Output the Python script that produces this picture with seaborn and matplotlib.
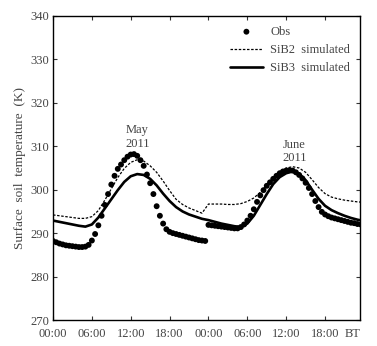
import numpy as np
import pandas as pd
import matplotlib
matplotlib.use("Agg")
import matplotlib.pyplot as plt
import seaborn as sns

# Observed surface soil temperature, half-hourly (hours since start)
obs_hours = np.arange(0, 48, 0.5)
obs_temp = [
    288.2, 287.9, 287.6, 287.4, 287.2, 287.1, 287.0, 286.9, 286.8, 286.8,
    286.9, 287.3, 288.3, 289.8, 291.8, 294.0, 296.5, 299.0, 301.2, 303.2,
    304.8, 305.8, 306.8, 307.6, 308.1, 308.2, 307.8, 306.8, 305.5, 303.5,
    301.5, 299.0, 296.2, 294.0, 292.2, 290.9, 290.3, 290.0, 289.8, 289.6,
    289.4, 289.2, 289.0, 288.8, 288.6, 288.4, 288.3, 288.2,
    291.9, 291.8, 291.7, 291.6, 291.5, 291.4, 291.3, 291.2, 291.1, 291.1,
    291.4, 292.0, 292.9, 294.0, 295.5, 297.2, 298.7, 299.9, 300.9, 301.7,
    302.5, 303.2, 303.8, 304.2, 304.4, 304.5, 304.4, 304.0, 303.4, 302.6,
    301.6, 300.4, 299.0, 297.4, 296.0, 294.9, 294.3, 293.9, 293.6, 293.4,
    293.2, 293.0, 292.8, 292.6, 292.4, 292.3, 292.1, 292.0,
]

# Simulations, hourly
sim_hours = np.arange(0, 49, 1)
sib2 = [
    294.2, 294.0, 293.8, 293.6, 293.4, 293.4, 293.8, 295.2, 297.6, 300.2,
    302.8, 304.9, 306.3, 306.9, 306.6, 305.5, 304.0, 302.0, 299.8, 297.8,
    296.6, 295.8, 295.2, 294.6, 296.7, 296.7, 296.7, 296.6, 296.6, 296.8,
    297.3, 298.1, 299.4, 301.0, 302.8, 304.2, 305.0, 305.3, 305.0, 304.0,
    302.3, 300.5, 299.1, 298.3, 297.9, 297.6, 297.4, 297.2, 297.1,
]
sib3 = [
    292.9, 292.6, 292.3, 292.0, 291.7, 291.5, 292.0, 293.6, 295.7, 297.8,
    299.9, 301.8, 303.1, 303.6, 303.4, 302.5, 301.0, 299.1, 297.4, 296.0,
    295.0, 294.3, 293.8, 293.3, 293.0, 292.6, 292.2, 291.9, 291.6, 291.4,
    292.2, 294.0, 296.5, 299.0, 301.3, 302.9, 303.8, 304.2, 303.7, 302.2,
    300.0, 297.9, 296.3, 295.3, 294.6, 294.0, 293.5, 293.1, 292.8,
]

tick_hours = [0, 6, 12, 18, 24, 30, 36, 42]
tick_labels = ["00:00", "06:00", "12:00", "18:00", "00:00", "06:00", "12:00", "18:00"]

sns.set_style("ticks")
plt.rcParams["font.family"] = ["Liberation Serif", "DejaVu Serif"]

fig = plt.figure(figsize=(3.77, 3.46), dpi=100)
ax = fig.add_axes([0.1406, 0.0751, 0.8144, 0.8787])

sns.scatterplot(x=obs_hours, y=obs_temp, ax=ax, color="black", s=18,
                edgecolor="none", label="Obs", zorder=3)
sns.lineplot(x=sim_hours, y=sib2, ax=ax, color="black", lw=0.9,
             linestyle=(0, (2, 1.3)), label="SiB2  simulated")
sns.lineplot(x=sim_hours, y=sib3, ax=ax, color="black", lw=1.9,
             label="SiB3  simulated")

ax.set_xlim(0, 47.4)
ax.set_ylim(270, 340)
ax.set_xticks(tick_hours)
ax.set_xticklabels(tick_labels)
ax.set_yticks(range(270, 341, 10))
ax.tick_params(direction="in", top=True, right=True, length=3, width=0.8,
               labelsize=9, colors="#333333", labelcolor="#444444")
ax.tick_params(axis="x", pad=6)
ax.tick_params(axis="y", pad=3)
for sp in ax.spines.values():
    sp.set_linewidth(1.0)
    sp.set_color("black")

ax.set_ylabel("Surface  soil  temperature  (K)", fontsize=9.5, color="#444444",
              labelpad=3)
ax.text(46.3, -0.047, "BT", transform=ax.get_xaxis_transform(), ha="center",
        va="center", fontsize=9, color="#444444")

ax.text(13, 309.2, "May\n2011", ha="center", va="bottom", fontsize=9,
        color="#444444", linespacing=1.15)
ax.text(37.3, 305.9, "June\n2011", ha="center", va="bottom", fontsize=9,
        color="#444444", linespacing=1.15)

leg = ax.legend(loc="upper right", frameon=False, fontsize=9,
                handlelength=2.6, labelspacing=0.5, borderaxespad=0.4,
                handletextpad=0.6)
for t in leg.get_texts():
    t.set_color("#444444")

fig.savefig("out.png", dpi=100)
